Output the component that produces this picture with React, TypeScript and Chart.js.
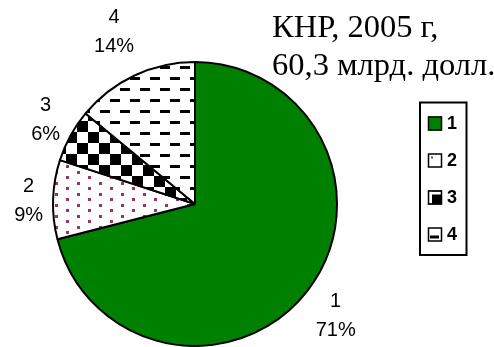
import React, { useEffect, useRef } from "react";
import { Chart, registerables } from "chart.js";

Chart.register(...registerables);

// ---- data ----
const categories = ["1", "2", "3", "4"];
const shares = [71, 9, 6, 14];
const titleLines = ["КНР, 2005 г,", "60,3 млрд. долл."];

// ---- layout / style constants ----
const W = 494;
const H = 347;
const labelGaps = [16, 10, 14, 28];
const GREEN = "#008000";
const PURPLE = "#993366";

function makeTile(w: number, h: number, draw: (g: CanvasRenderingContext2D) => void) {
  const c = document.createElement("canvas");
  c.width = w;
  c.height = h;
  const g = c.getContext("2d")!;
  draw(g);
  return g.createPattern(c, "repeat")!;
}

function makePatterns() {
  const dots = makeTile(22, 11, (g) => {
    g.fillStyle = "#fff";
    g.fillRect(0, 0, 22, 11);
    g.fillStyle = PURPLE;
    g.fillRect(0, 0, 3, 3);
    g.fillRect(11, 6, 3, 3);
  });
  const checker = makeTile(22, 22, (g) => {
    g.fillStyle = "#fff";
    g.fillRect(0, 0, 22, 22);
    g.fillStyle = "#000";
    g.fillRect(0, 0, 11, 11);
    g.fillRect(11, 11, 11, 11);
  });
  const dashes = makeTile(20, 22, (g) => {
    g.fillStyle = "#fff";
    g.fillRect(0, 0, 20, 22);
    g.fillStyle = "#000";
    g.fillRect(0, 0, 10, 3);
    g.fillRect(10, 11, 10, 3);
  });
  return [GREEN, dots, checker, dashes];
}

const overlay = {
  id: "overlay",
  afterDatasetsDraw(chart: any) {
    const ctx: CanvasRenderingContext2D = chart.ctx;
    const meta = chart.getDatasetMeta(0);
    ctx.save();

    // slice labels
    ctx.fillStyle = "#000";
    ctx.font = "20px 'Liberation Sans', Arial, sans-serif";
    ctx.textAlign = "center";
    ctx.textBaseline = "alphabetic";
    const LINE_GAP = 29;
    const DIGIT_H = 15;
    meta.data.forEach((arc: any, i: number) => {
      const { x, y, startAngle, endAngle, outerRadius } = arc.getProps(
        ["x", "y", "startAngle", "endAngle", "outerRadius"],
        true
      );
      const a = (startAngle + endAngle) / 2;
      const ca = Math.cos(a);
      const sa = Math.sin(a);
      const lines = [categories[i], shares[i] + "%"];
      const w = Math.max(...lines.map((l) => ctx.measureText(l).width));
      const h = LINE_GAP + DIGIT_H;
      const ax = x + (outerRadius + labelGaps[i]) * ca;
      const ay = y + (outerRadius + labelGaps[i]) * sa;
      const cx = ax + (ca * w) / 2;
      const cy = ay + (sa * h) / 2;
      ctx.fillText(lines[0], cx, cy - LINE_GAP / 2 + DIGIT_H / 2);
      ctx.fillText(lines[1], cx, cy + LINE_GAP / 2 + DIGIT_H / 2);
    });

    // title
    ctx.textAlign = "left";
    ctx.font = "32.5px 'Liberation Serif', 'Times New Roman', serif";
    ctx.fillText(titleLines[0], 272, 37);
    ctx.fillText(titleLines[1], 272, 75);

    // legend
    const colors = chart.data.datasets[0].backgroundColor;
    ctx.lineWidth = 2;
    ctx.strokeStyle = "#000";
    ctx.strokeRect(420, 102.5, 46.5, 152.5);
    ctx.font = "bold 18px 'Liberation Sans', Arial, sans-serif";
    ctx.textBaseline = "middle";
    categories.forEach((cat, i) => {
      const cy = 123.5 + i * 37;
      const mx = 428;
      const my = cy - 7;
      const s = 14;
      if (i === 0) {
        ctx.fillStyle = colors[0];
        ctx.fillRect(mx, my, s, s);
      } else if (i === 1) {
        ctx.fillStyle = "#fff";
        ctx.fillRect(mx, my, s, s);
        ctx.fillStyle = PURPLE;
        ctx.fillRect(mx + 3, my + 3, 2, 2);
      } else if (i === 2) {
        ctx.fillStyle = "#000";
        ctx.fillRect(mx, my, s, s);
        ctx.fillStyle = "#fff";
        ctx.fillRect(mx + 1, my + 1, 3, s - 2);
        ctx.fillRect(mx + 1, my + 1, s - 2, 3);
      } else {
        ctx.fillStyle = "#fff";
        ctx.fillRect(mx, my, s, s);
        ctx.fillStyle = "#000";
        ctx.fillRect(mx + 2, my + 8, 9, 3);
      }
      ctx.lineWidth = 1.5;
      ctx.strokeRect(mx + 0.5, my + 0.5, s - 1, s - 1);
      ctx.fillStyle = "#000";
      ctx.fillText(cat, 447, cy + 1);
    });
    ctx.restore();
  },
};

export default function App() {
  const ref = useRef<HTMLCanvasElement | null>(null);
  useEffect(() => {
    document.body.style.margin = "0";
    const canvas = ref.current!;
    const chart = new Chart(canvas, {
      type: "pie",
      data: {
        labels: categories,
        datasets: [
          {
            data: shares,
            backgroundColor: makePatterns() as any,
            borderColor: "#000",
            borderWidth: 2,
          },
        ],
      },
      options: {
        responsive: false,
        animation: false,
        devicePixelRatio: 1,
        radius: 142,
        layout: { padding: { left: 52, right: 156, top: 61, bottom: 0 } },
        plugins: {
          legend: { display: false },
          tooltip: { enabled: false },
          title: { display: false },
        },
      } as any,
      plugins: [overlay],
    });
    return () => chart.destroy();
  }, []);
  return (
    <div style={{ position: "fixed", left: 0, top: 0, width: W, height: H, background: "#fff" }}>
      <canvas ref={ref} width={W} height={H} style={{ display: "block" }} />
    </div>
  );
}
